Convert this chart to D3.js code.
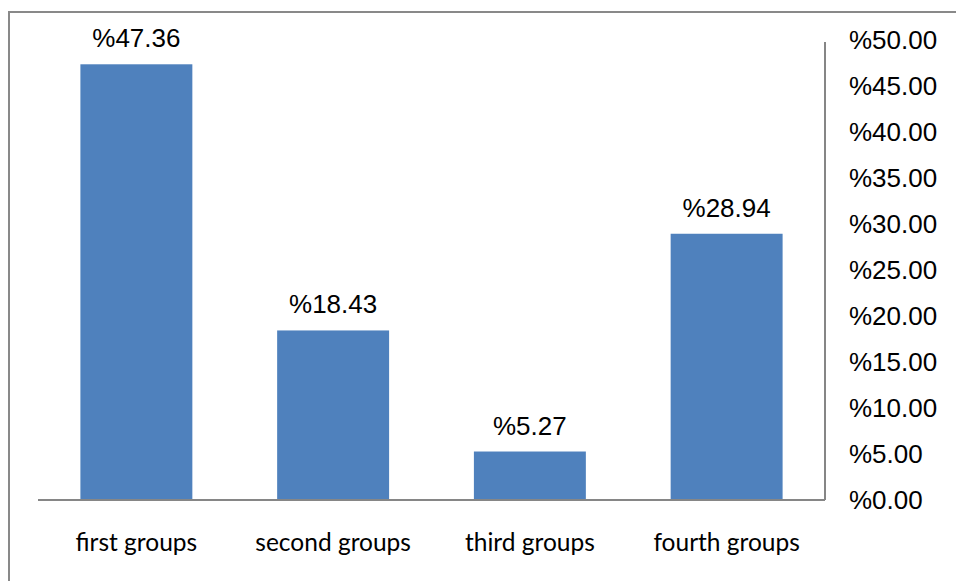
<!DOCTYPE html>
<html>
<head>
<meta charset="utf-8">
<script src="https://cdn.jsdelivr.net/npm/d3@7"></script>
<style>
  html, body { margin: 0; padding: 0; background: #fff; }
  svg { display: block; }
</style>
</head>
<body>
<svg id="chart" width="956" height="581"></svg>
<script>
const categories = ["first groups", "second groups", "third groups", "fourth groups"];
const values = [47.36, 18.43, 5.27, 28.94];
const tickValues = [0, 5, 10, 15, 20, 25, 30, 35, 40, 45, 50];

const svg = d3.select("#chart");

// outer frame (right and bottom edges fall outside the picture)
svg.append("rect")
    .attr("x", 9).attr("y", 12)
    .attr("width", 960).attr("height", 600)
    .attr("fill", "none")
    .attr("stroke", "#898989")
    .attr("stroke-width", 2);

const x = d3.scaleBand()
    .domain(categories)
    .range([38, 825])
    .paddingInner(0.431)
    .paddingOuter(0.2155);

const y = d3.scaleLinear()
    .domain([0, 50])
    .range([500, 40]);

// bars
svg.selectAll("rect.bar")
    .data(values)
    .enter().append("rect")
    .attr("class", "bar")
    .attr("x", (d, i) => x(categories[i]))
    .attr("y", d => y(d))
    .attr("width", x.bandwidth())
    .attr("height", d => y(0) - y(d))
    .attr("fill", "#4F81BD");

// value labels
svg.selectAll("text.val")
    .data(values)
    .enter().append("text")
    .attr("class", "val")
    .attr("x", (d, i) => x(categories[i]) + x.bandwidth() / 2)
    .attr("y", d => y(d) - 17)
    .attr("text-anchor", "middle")
    .attr("font-family", "Liberation Sans, Arial, sans-serif")
    .attr("font-size", 26)
    .attr("fill", "#000")
    .text(d => "%" + d.toFixed(2));

// baseline
svg.append("line")
    .attr("x1", 38).attr("x2", 825)
    .attr("y1", y(0)).attr("y2", y(0))
    .attr("stroke", "#868686")
    .attr("stroke-width", 2);

// right value axis
const yAxis = svg.append("g")
    .attr("transform", "translate(825,0)")
    .call(d3.axisRight(y)
        .tickValues(tickValues)
        .tickSize(0)
        .tickPadding(24)
        .tickFormat(d => "%" + d.toFixed(2)));

yAxis.select(".domain")
    .attr("d", `M0,${y(50) + 2}V${y(0)}`)
    .attr("stroke", "#868686")
    .attr("stroke-width", 2);

yAxis.selectAll("text")
    .attr("font-family", "Liberation Sans, Arial, sans-serif")
    .attr("font-size", 26)
    .attr("fill", "#000")
    .attr("dy", "0.33em");

// category labels
const xAxis = svg.append("g")
    .attr("transform", `translate(0,${y(0)})`)
    .call(d3.axisBottom(x).tickSize(0).tickPadding(0));

xAxis.select(".domain").remove();
xAxis.selectAll("text")
    .attr("font-family", "Lato, 'Open Sans', sans-serif")
    .attr("font-size", 24.5)
    .attr("fill", "#000")
    .attr("dy", null)
    .attr("y", 51);
</script>
</body>
</html>
